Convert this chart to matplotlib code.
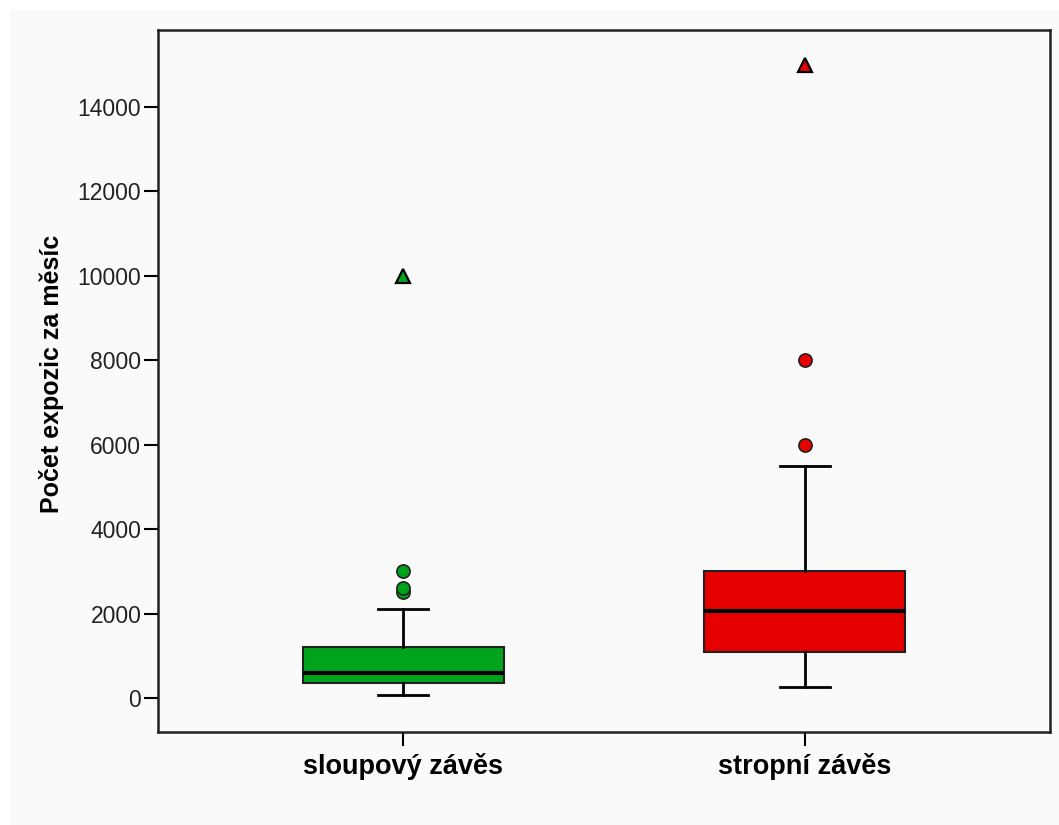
import matplotlib.pyplot as plt
from matplotlib.patches import Rectangle

plt.rcParams['font.family'] = ['Liberation Sans', 'DejaVu Sans']

# box statistics
groups = ['sloupový závěs', 'stropní závěs']
colors = ['#00a31c', '#e60000']
q1 = [350, 1100]
med = [600, 2050]
q3 = [1200, 3000]
wlo = [60, 250]
whi = [2100, 5500]
outliers = [[2500, 2600, 3000], [6000, 8000]]
extremes = [[10000], [15000]]

fig = plt.figure(figsize=(10.59, 8.25), dpi=100, facecolor='white')
fig.patches.append(Rectangle((10 / 1059, 0), 1, 815 / 825, transform=fig.transFigure,
                             facecolor='#fafafa', edgecolor='none', zorder=-10))
ax = fig.add_axes([158 / 1059, 1 - 732 / 825, (1050 - 158) / 1059, (732 - 30) / 825])
ax.set_facecolor('#fafafa')

stats = []
for i, g in enumerate(groups):
    stats.append(dict(label=g, q1=q1[i], med=med[i], q3=q3[i],
                      whislo=wlo[i], whishi=whi[i], fliers=[]))

pos = [1, 2]
bp = ax.bxp(stats, positions=pos, widths=0.5, patch_artist=True,
            showfliers=False, capwidths=0.125,
            boxprops=dict(linewidth=1.5, edgecolor='#222222'),
            medianprops=dict(color='black', linewidth=3),
            whiskerprops=dict(color='black', linewidth=2),
            capprops=dict(color='black', linewidth=2))
for patch, c in zip(bp['boxes'], colors):
    patch.set_facecolor(c)

for i in range(len(groups)):
    ax.plot([pos[i]] * len(outliers[i]), outliers[i], 'o', color=colors[i],
            markeredgecolor='#222222', markersize=9.5, markeredgewidth=1.2, zorder=5)
    ax.plot([pos[i]] * len(extremes[i]), extremes[i], '^', color=colors[i],
            markeredgecolor='black', markersize=10.5, markeredgewidth=1.6, zorder=5)

ax.set_xlim(0.39, 2.61)
ax.set_ylim(-805, 15824)
ax.set_yticks(range(0, 14001, 2000))
ax.tick_params(axis='y', length=10, width=1.5, pad=2, labelsize=16.5, labelcolor='#222222')
ax.tick_params(axis='x', length=10, width=1.5, pad=5, labelsize=19.5)
for lab in ax.get_xticklabels():
    lab.set_fontweight('bold')
for s in ax.spines.values():
    s.set_linewidth(1.8)
    s.set_color('#222222')

ax.set_ylabel('Počet expozic za měsíc', fontsize=18, fontweight='bold')
ax.yaxis.set_label_coords(-0.105, 0.51)

fig.savefig('out.png', dpi=100, facecolor=fig.get_facecolor())
